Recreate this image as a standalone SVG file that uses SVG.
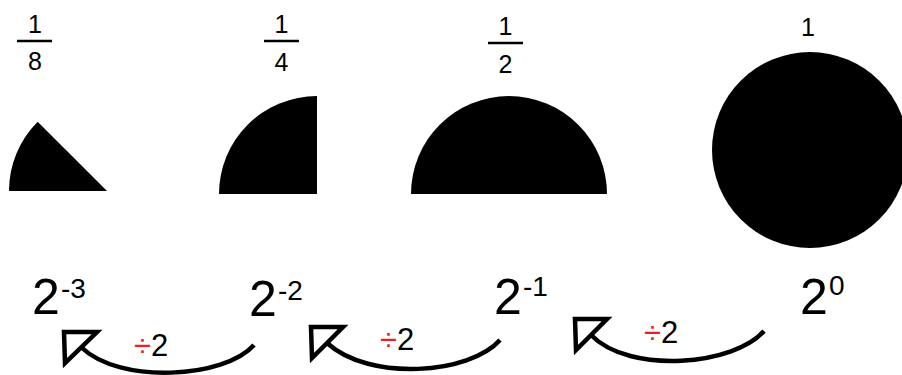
<svg xmlns="http://www.w3.org/2000/svg" width="902" height="375" viewBox="0 0 902 375">
<style>
.t{font-family:"Liberation Sans","Open Sans",sans-serif;fill:#000}
.fr{font-size:25px;text-anchor:middle}
.base{font-size:50px}
.sup{font-size:28px}
.div{font-size:31px}
.red{fill:#ee1c24}
.bar{stroke:#000;stroke-width:2.5}
.shape{fill:#000}
.curve{fill:none;stroke:#000;stroke-width:4.5;stroke-linecap:butt}
.head{fill:none;stroke:#000;stroke-width:4.5;stroke-linejoin:miter}
</style>
<rect width="902" height="375" fill="#fff"/>
<g id="eighth">
<text class="t fr" x="35" y="33">1</text>
<line class="bar" x1="17" y1="41" x2="52" y2="41"/>
<text class="t fr" x="35" y="70">8</text>
<path class="shape" d="M9,191 A98,98 0 0 1 37.7,121.7 L107,191 Z"/>
<text class="t base" x="32" y="314">2</text>
<text class="t sup" x="61" y="298">-3</text>
</g>
<g id="quarter">
<text class="t fr" x="281.5" y="33">1</text>
<line class="bar" x1="264" y1="41" x2="299" y2="41"/>
<text class="t fr" x="281.5" y="71">4</text>
<path class="shape" d="M219,194 A98,98 0 0 1 317,96 L317,194 Z"/>
<text class="t base" x="249" y="316">2</text>
<text class="t sup" x="278" y="300">-2</text>
</g>
<g id="half">
<text class="t fr" x="505.5" y="35">1</text>
<line class="bar" x1="488" y1="43" x2="523" y2="43"/>
<text class="t fr" x="505.5" y="73">2</text>
<path class="shape" d="M411,194 A98,98 0 0 1 607,194 Z"/>
<text class="t base" x="494" y="314">2</text>
<text class="t sup" x="523" y="296">-1</text>
</g>
<g id="whole">
<text class="t fr" x="808" y="36">1</text>
<circle class="shape" cx="810" cy="150" r="98"/>
<text class="t base" x="800" y="314">2</text>
<text class="t sup" x="829" y="295">0</text>
</g>
<g id="connectors">
<path class="curve" d="M254,345 C225,378 120,385 81,347"/>
<polygon class="head" points="64,332 97,332 65,363"/>
<path class="curve" d="M500,340 C470,374 370,382 327,343"/>
<polygon class="head" points="311,327 343,327 312,358"/>
<path class="curve" d="M764,331 C735,365 630,375 591,335"/>
<polygon class="head" points="575,319 607,319 576,350"/>
</g>
<g id="labels">
<text class="t div" x="134" y="356"><tspan class="red">÷</tspan>2</text>
<text class="t div" x="380" y="350"><tspan class="red">÷</tspan>2</text>
<text class="t div" x="644" y="343"><tspan class="red">÷</tspan>2</text>
</g>
</svg>
